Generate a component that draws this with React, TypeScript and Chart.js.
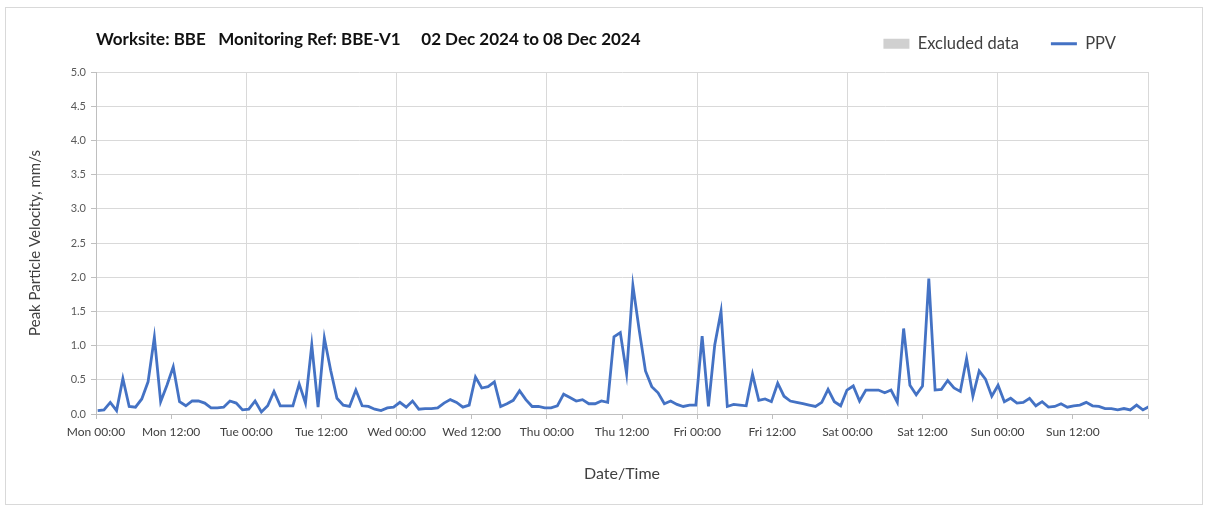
import React, { useEffect, useRef } from "react";
import { Chart, registerables } from "chart.js";

Chart.register(...registerables);

// ---- Data ----
const TITLE_TEXT = "Worksite: BBE   Monitoring Ref: BBE-V1     02 Dec 2024 to 08 Dec 2024";
const X_TITLE = "Date/Time";
const Y_TITLE = "Peak Particle Velocity, mm/s";
const LEGEND_EXCLUDED = "Excluded data";
const LEGEND_PPV = "PPV";

const X_TICK_LABELS = [
  "Mon 00:00", "Mon 12:00", "Tue 00:00", "Tue 12:00", "Wed 00:00", "Wed 12:00",
  "Thu 00:00", "Thu 12:00", "Fri 00:00", "Fri 12:00", "Sat 00:00", "Sat 12:00",
  "Sun 00:00", "Sun 12:00",
];

// hours since Mon 00:00 of the first sample, and sampling interval (hours)
const SAMPLE_START_HOUR = 0.27;
const SAMPLE_STEP_HOURS = 1.0055;

const PPV_VALUES = [
  0.05, 0.06, 0.17, 0.05, 0.52, 0.11, 0.10, 0.22, 0.47, 1.12,
  0.18, 0.42, 0.69, 0.18, 0.12, 0.19, 0.19, 0.16, 0.09, 0.09,
  0.10, 0.19, 0.16, 0.06, 0.07, 0.19, 0.03, 0.12, 0.33, 0.12,
  0.12, 0.12, 0.44, 0.16, 1.01, 0.10, 1.11, 0.64, 0.23, 0.13,
  0.11, 0.35, 0.12, 0.11, 0.07, 0.05, 0.09, 0.10, 0.17, 0.10,
  0.19, 0.07, 0.08, 0.08, 0.09, 0.16, 0.21, 0.17, 0.10, 0.13,
  0.54, 0.38, 0.40, 0.47, 0.11, 0.15, 0.20, 0.34, 0.21, 0.11,
  0.11, 0.09, 0.09, 0.12, 0.29, 0.24, 0.19, 0.21, 0.15, 0.15,
  0.19, 0.17, 1.13, 1.19, 0.59, 1.88, 1.23, 0.63, 0.40, 0.31,
  0.15, 0.19, 0.14, 0.11, 0.13, 0.13, 1.14, 0.11, 1.01, 1.50,
  0.11, 0.14, 0.13, 0.12, 0.58, 0.20, 0.22, 0.18, 0.45, 0.26,
  0.19, 0.17, 0.15, 0.13, 0.11, 0.17, 0.36, 0.18, 0.12, 0.35,
  0.41, 0.19, 0.35, 0.35, 0.35, 0.31, 0.35, 0.17, 1.25, 0.42,
  0.28, 0.41, 1.98, 0.35, 0.36, 0.49, 0.38, 0.33, 0.81, 0.26,
  0.63, 0.51, 0.26, 0.42, 0.18, 0.23, 0.16, 0.17, 0.23, 0.12,
  0.18, 0.10, 0.11, 0.15, 0.10, 0.12, 0.13, 0.17, 0.12, 0.11,
  0.08, 0.08, 0.06, 0.08, 0.06, 0.13, 0.06, 0.11,
];

const X_MIN = 0;
const X_MAX = 168;
const Y_MIN = 0;
const Y_MAX = 5;

const FONT = "Lato, 'Open Sans', sans-serif";
const BLUE = "#4472C4";
const EXCL_GRAY = "#d0d0d0";
const GRID = "#d9d9d9";
const AXIS = "#bfbfbf";

export default function App() {
  const canvasRef = useRef<HTMLCanvasElement | null>(null);

  useEffect(() => {
    const canvas = canvasRef.current;
    if (!canvas) return;

    const points = PPV_VALUES.map((v, i) => ({
      x: SAMPLE_START_HOUR + i * SAMPLE_STEP_HOURS,
      y: v,
    }));

    const chart = new Chart(canvas, {
      type: "line",
      data: {
        datasets: [
          {
            label: LEGEND_EXCLUDED,
            data: [],
            backgroundColor: EXCL_GRAY,
            borderColor: EXCL_GRAY,
            borderWidth: 0,
            pointRadius: 0,
          },
          {
            label: LEGEND_PPV,
            data: points,
            borderColor: BLUE,
            backgroundColor: BLUE,
            borderWidth: 2.8,
            pointRadius: 0,
            tension: 0,
            fill: false,
          },
        ],
      },
      options: {
        responsive: false,
        animation: false,
        layout: { padding: { top: 3.5, left: 0, right: 60, bottom: 0 } },
        plugins: {
          tooltip: { enabled: false },
          legend: {
            display: true,
            position: "top",
            align: "end",
            labels: {
              usePointStyle: true,
              pointStyleWidth: 26,
              boxHeight: 10,
              padding: 32,
              color: "#404040",
              font: { family: FONT, size: 16.5 },
              generateLabels: (c: any) =>
                c.data.datasets.map((ds: any, i: number) => ({
                  text: ds.label,
                  fillStyle: i === 0 ? EXCL_GRAY : BLUE,
                  strokeStyle: i === 0 ? EXCL_GRAY : BLUE,
                  lineWidth: i === 0 ? 0 : 3,
                  pointStyle: i === 0 ? "rect" : "line",
                  hidden: false,
                  datasetIndex: i,
                  fontColor: "#404040",
                })),
            },
          },
          title: {
            display: true,
            text: TITLE_TEXT,
            position: "top",
            align: "start",
            fullSize: false,
            weight: 500,
            color: "#111111",
            font: { family: FONT, size: 17, weight: "bold" },
            padding: { top: -32.2, bottom: 21.8 },
          },
        },
        scales: {
          x: {
            type: "linear",
            min: X_MIN,
            max: X_MAX,
            afterFit: (s: any) => {
              s.height = 94;
            },
            ticks: {
              stepSize: 12,
              autoSkip: false,
              maxRotation: 0,
              padding: 6,
              color: "#404040",
              font: { family: FONT, size: 12 },
              callback: (v: any) => {
                const idx = Math.round(Number(v) / 12);
                return X_TICK_LABELS[idx] ?? "";
              },
            },
            grid: {
              color: (ctx: any) =>
                ctx.tick && ctx.tick.value % 24 === 0 ? GRID : "rgba(0,0,0,0)",
              tickColor: AXIS,
              tickLength: 5,
              lineWidth: 1,
            },
            border: { display: true, color: AXIS },
            title: {
              display: true,
              text: X_TITLE,
              color: "#404040",
              font: { family: FONT, size: 16 },
              padding: { top: 0, bottom: 24.4 },
            },
          },
          y: {
            type: "linear",
            min: Y_MIN,
            max: Y_MAX,
            afterFit: (s: any) => {
              s.width = 96;
            },
            ticks: {
              stepSize: 0.5,
              padding: 5,
              color: "#595959",
              font: { family: FONT, size: 11 },
              callback: (v: any) => Number(v).toFixed(1),
            },
            grid: {
              color: GRID,
              tickColor: AXIS,
              tickLength: 5,
              lineWidth: 1,
            },
            border: { display: true, color: AXIS },
            title: {
              display: true,
              text: Y_TITLE,
              color: "#404040",
              font: { family: FONT, size: 15 },
              padding: { top: 26, bottom: 0 },
            },
          },
        },
      },
    });

    return () => chart.destroy();
  }, []);

  return (
    <div
      style={{
        position: "fixed",
        left: 0,
        top: 0,
        width: 1208,
        height: 508,
        background: "#ffffff",
        overflow: "hidden",
      }}
    >
      <div
        style={{
          position: "absolute",
          left: 5,
          top: 7,
          width: 1198,
          height: 498,
          boxSizing: "border-box",
          border: "1px solid #d9d9d9",
        }}
      />
      <canvas
        ref={canvasRef}
        width={1208}
        height={508}
        style={{ position: "absolute", left: 0, top: 0, width: 1208, height: 508 }}
      />
    </div>
  );
}
